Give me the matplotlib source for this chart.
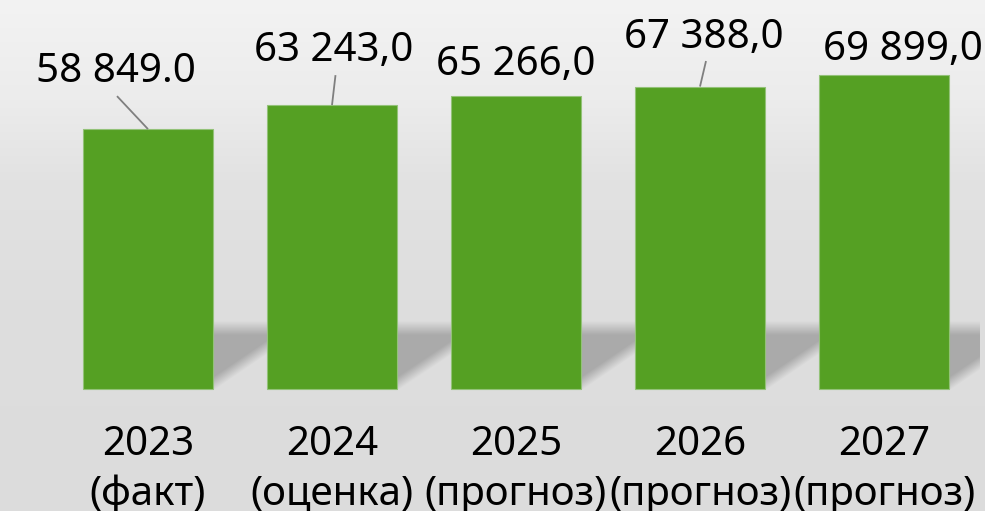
import numpy as np
import matplotlib
matplotlib.use("Agg")
from matplotlib import pyplot as plt

# data
years = ["2023", "2024", "2025", "2026", "2027"]
kinds = ["(факт)", "(оценка)", "(прогноз)", "(прогноз)", "(прогноз)"]
values = [57900, 63243, 65266, 67388, 69899]
value_labels = ["58 849.0", "63 243,0", "65 266,0", "67 388,0", "69 899,0"]

# layout (pixels)
W, H = 985, 511
STEP = 184.0      # px between categories
X0 = 148.0        # px centre of first bar
BASE = 389.0      # px baseline from top
KY = 222.8        # value units per px
BAR_W = 130 / STEP

# label placement: (dx right, dy up to baseline) from bar top centre, px
label_pos = [(-32, 47), (1.5, 44), (0, 21), (4, 38.5), (19, 15)]
# leader line start: (dx, dy) from bar top centre, px ; None = no line
leader = [(-31, 33), (3.5, 30), None, (6, 25.5), None]

BAR_COLOR = "#55a023"
FONT = "Noto Sans"
FS = 29

fig = plt.figure(figsize=(W / 100, H / 100), dpi=100)
ax = fig.add_axes([0, 0, 1, 1])
xlim = (-X0 / STEP, (W - X0) / STEP)
ylim = (-(H - BASE) * KY, BASE * KY)
ax.set_xlim(*xlim)
ax.set_ylim(*ylim)
ax.axis("off")

# background gradient
g = np.interp(np.arange(H), [0, 100, 180, 300, 511], [243, 236, 226, 222, 220]) / 255
bg = np.dstack([np.repeat(g[:, None], 2, axis=1)] * 3)
ax.imshow(bg, extent=(*xlim, *ylim), aspect="auto", origin="upper", zorder=0)

x = np.arange(len(years))

# soft shadows to the right of each bar
sh_w, sh_h = 56, 74
uu, vv = np.meshgrid(np.arange(sh_w) + 0.5, np.arange(sh_h)[::-1] + 0.5)
a_top = np.clip((68 - vv) / 14, 0, 1)
a_diag = np.clip((vv - 0.68 * uu + 2) / 14, 0, 1)
alpha = a_top * a_diag
shadow = np.zeros((sh_h, sh_w, 4))
shadow[..., :3] = 0.67
shadow[..., 3] = alpha
for xi in x:
    right = xi + BAR_W / 2
    right_px = X0 + right * STEP
    cols = int(round(min(sh_w, 980 - right_px)))
    ax.imshow(shadow[:, :cols], extent=(right, right + cols / STEP, 0, sh_h * KY),
              aspect="auto", origin="upper", zorder=1, interpolation="bilinear")

ax.bar(x, values, width=BAR_W, color=BAR_COLOR, edgecolor="#93c278",
       linewidth=0.8, zorder=3)

for xi, v, lab, (dx, dy), ld in zip(x, values, value_labels, label_pos, leader):
    ax.text(xi + dx / STEP, v + dy * KY, lab, ha="center", va="baseline",
            fontsize=FS, family=FONT, color="black", zorder=5)
    if ld is not None:
        ax.plot([xi + ld[0] / STEP, xi], [v + ld[1] * KY, v],
                color="#7f7f7f", lw=1.3, zorder=4, solid_capstyle="butt")

for xi, yr, kd in zip(x, years, kinds):
    ax.text(xi, -(455 - BASE) * KY, yr, ha="center", va="baseline",
            fontsize=FS, family=FONT, color="black")
    ax.text(xi, -(505 - BASE) * KY, kd, ha="center", va="baseline",
            fontsize=FS, family=FONT, color="black")

fig.savefig("out.png", dpi=100)
